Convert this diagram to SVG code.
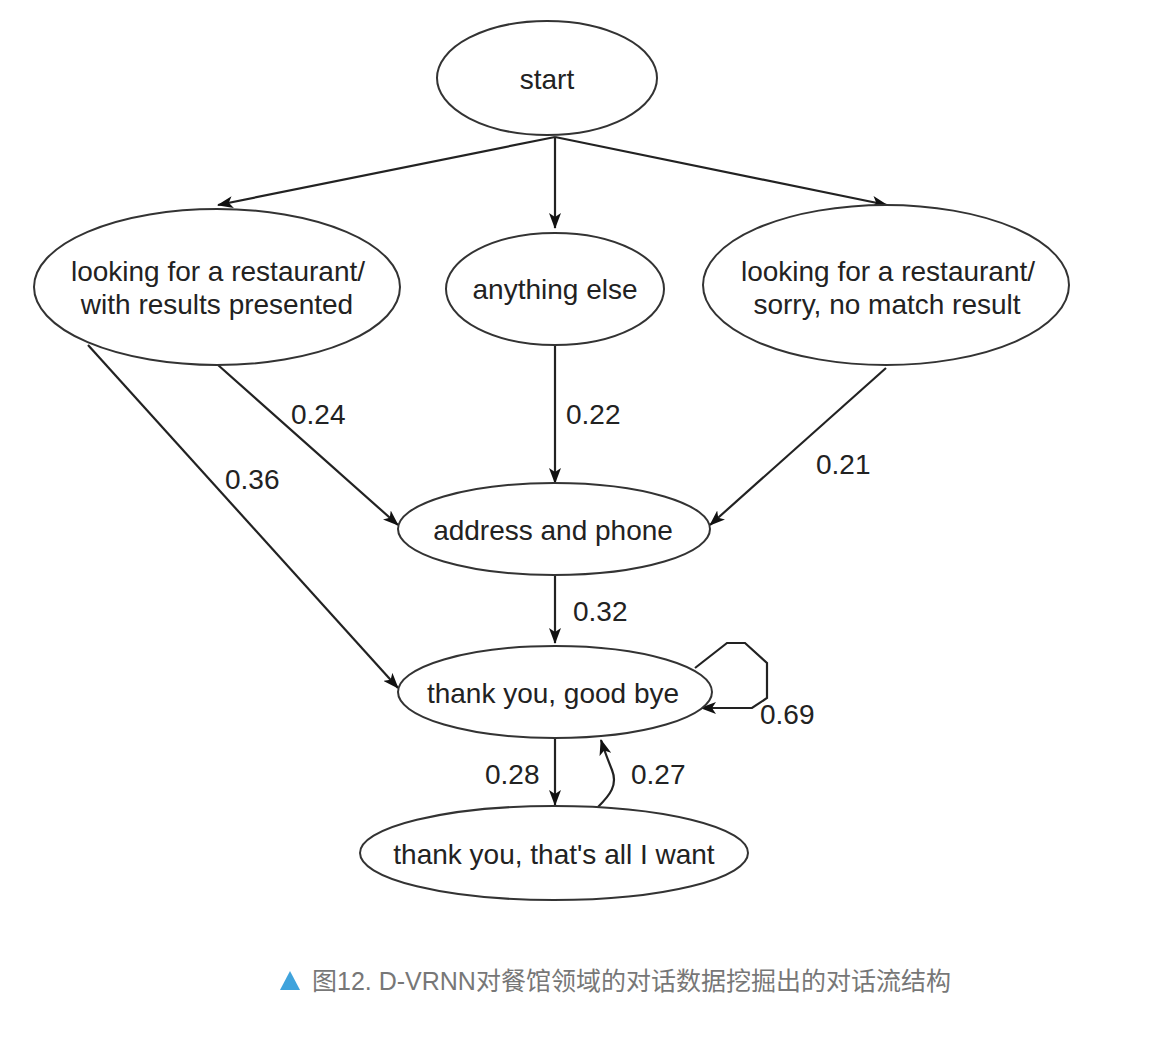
<svg xmlns="http://www.w3.org/2000/svg" width="1164" height="1038" viewBox="0 0 1164 1038">
<defs>
<style>
.node ellipse{fill:#fff;stroke:#333;stroke-width:2}
.node text{font-family:"Liberation Sans",Arial,sans-serif;font-size:28px;fill:#222;text-anchor:middle}
.edge{fill:none;stroke:#222;stroke-width:2.2}
.lbl{font-family:"Liberation Sans",Arial,sans-serif;font-size:28px;fill:#222}
.cap{font-family:"Liberation Sans","Noto Sans CJK SC",sans-serif;font-size:25px;fill:#777}
</style>
<marker id="arr" viewBox="0 0 16 12" refX="15" refY="6" markerWidth="16" markerHeight="12" markerUnits="userSpaceOnUse" orient="auto">
<path d="M0,0 L16,6 L0,12 L4,6 Z" fill="#111"/>
</marker>
</defs>
<rect width="1164" height="1038" fill="#fff"/>
<g id="connectors">
<path class="edge" marker-end="url(#arr)" d="M555,137 L218,205"/>
<path class="edge" marker-end="url(#arr)" d="M555,137 L555,228"/>
<path class="edge" marker-end="url(#arr)" d="M555,137 L887,205"/>
<path class="edge" marker-end="url(#arr)" d="M218,365 L398,525"/>
<path class="edge" marker-end="url(#arr)" d="M88,345 L398,688"/>
<path class="edge" marker-end="url(#arr)" d="M555,345 L555,483"/>
<path class="edge" marker-end="url(#arr)" d="M886,368 L710,525"/>
<path class="edge" marker-end="url(#arr)" d="M555,575 L555,643"/>
<path class="edge" marker-end="url(#arr)" d="M555,738 L555,805"/>
<path class="edge" marker-end="url(#arr)" d="M598,807 C610,795 618,785 612,770 C608,760 604,750 601,740"/>
<path class="edge" marker-end="url(#arr)" d="M695,668 L727,643 L745,643 L767,663 L767,698 L752,708 L701,708"/>
<text class="lbl" x="291" y="424">0.24</text>
<text class="lbl" x="225" y="489">0.36</text>
<text class="lbl" x="566" y="424">0.22</text>
<text class="lbl" x="816" y="474">0.21</text>
<text class="lbl" x="573" y="621">0.32</text>
<text class="lbl" x="485" y="784">0.28</text>
<text class="lbl" x="631" y="784">0.27</text>
<text class="lbl" x="760" y="724">0.69</text>
</g>
<g id="start" class="node"><ellipse cx="547" cy="78" rx="110" ry="57"/><text x="547" y="89">start</text></g>
<g id="results" class="node"><ellipse cx="217" cy="287" rx="183" ry="78"/><text x="218" y="281">looking for a restaurant/</text><text x="217" y="314">with results presented</text></g>
<g id="anything" class="node"><ellipse cx="555" cy="289" rx="109" ry="56"/><text x="555" y="299">anything else</text></g>
<g id="nomatch" class="node"><ellipse cx="886" cy="285" rx="183" ry="80"/><text x="888" y="281">looking for a restaurant/</text><text x="887" y="314">sorry, no match result</text></g>
<g id="address" class="node"><ellipse cx="554" cy="529" rx="156" ry="46"/><text x="553" y="540">address and phone</text></g>
<g id="goodbye" class="node"><ellipse cx="555" cy="692" rx="157" ry="46"/><text x="553" y="703">thank you, good bye</text></g>
<g id="allwant" class="node"><ellipse cx="554" cy="853" rx="194" ry="47"/><text x="554" y="864">thank you, that's all I want</text></g>
<g id="caption">
<path d="M280,990 L290,971 L300,990 Z" fill="#3fa3dc"/>
<text class="cap" x="312" y="990">图12. D-VRNN对餐馆领域的对话数据挖掘出的对话流结构</text>
</g>
</svg>
